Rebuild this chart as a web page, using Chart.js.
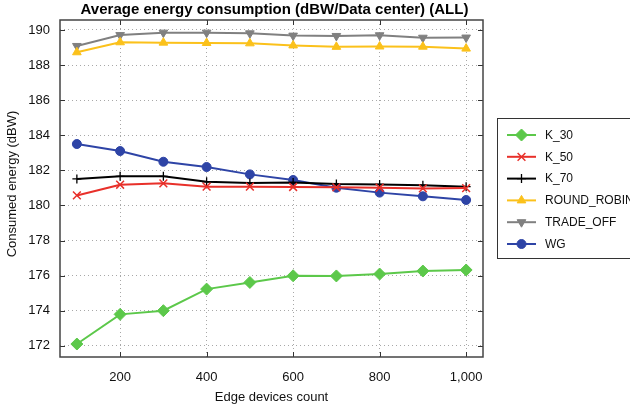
<!DOCTYPE html>
<html>
<head>
<meta charset="utf-8">
<script src="https://cdn.jsdelivr.net/npm/chart.js@4/dist/chart.umd.min.js"></script>
<style>
  html, body { margin: 0; padding: 0; background: #fff; }
  #wrap { width: 630px; height: 407px; }
</style>
</head>
<body>
<div id="wrap"><canvas id="c" width="630" height="407"></canvas></div>
<script>
const edgeCounts = [100, 200, 300, 400, 500, 600, 700, 800, 900, 1000];
const k30 = [172.10, 173.79, 174.00, 175.23, 175.61, 175.99, 175.98, 176.09, 176.26, 176.32];
const k50 = [180.57, 181.18, 181.26, 181.07, 181.07, 181.05, 181.03, 181.01, 180.97, 180.99];
const k70 = [181.51, 181.66, 181.66, 181.35, 181.28, 181.30, 181.22, 181.20, 181.15, 181.07];
const roundRobin = [188.73, 189.30, 189.28, 189.26, 189.24, 189.12, 189.04, 189.06, 189.05, 188.94];
const tradeOff = [189.09, 189.71, 189.85, 189.85, 189.81, 189.68, 189.66, 189.70, 189.56, 189.57];
const wg = [183.50, 183.10, 182.49, 182.19, 181.77, 181.45, 181.01, 180.73, 180.52, 180.31];
const seriesNames = ["K_30", "K_50", "K_70", "ROUND_ROBIN", "TRADE_OFF", "WG"];
const xTicks = [200, 400, 600, 800, 1000];
const yTicks = [172, 174, 176, 178, 180, 182, 184, 186, 188, 190];

const FONT = '"Liberation Sans", Arial, Helvetica, sans-serif';

function pts(ys) { return edgeCounts.map((x, i) => ({ x: x, y: ys[i] })); }

const styles = [
  { color: '#5cc84a', point: 'rectRot', radius: 6, rot: 0, bw: 1 },
  { color: '#e8302a', point: 'crossRot', radius: 5.5, rot: 0, bw: 1.5 },
  { color: '#000000', point: 'cross', radius: 4.5, rot: 0, bw: 1.3 },
  { color: '#fbc11b', point: 'triangle', radius: 5, rot: 0, bw: 1 },
  { color: '#808080', point: 'triangle', radius: 5, rot: 180, bw: 1 },
  { color: '#2e44a6', point: 'circle', radius: 4.5, rot: 0, bw: 1 }
];
const allData = [k30, k50, k70, roundRobin, tradeOff, wg];

const datasets = allData.map((d, i) => ({
  label: seriesNames[i],
  data: pts(d),
  borderColor: styles[i].color,
  backgroundColor: styles[i].color,
  borderWidth: 2,
  pointStyle: styles[i].point,
  pointRadius: styles[i].radius,
  pointRotation: styles[i].rot,
  pointBorderWidth: styles[i].bw,
  pointBorderColor: styles[i].color,
  pointBackgroundColor: styles[i].color,
  tension: 0
}));

const decor = {
  id: 'decor',
  afterDraw(chart) {
    const ctx = chart.ctx;
    const a = chart.chartArea;
    const xs = chart.scales.x, ys = chart.scales.y;
    ctx.save();
    // inner tick marks
    ctx.strokeStyle = '#333';
    ctx.lineWidth = 1;
    ctx.beginPath();
    xTicks.forEach(v => {
      const px = Math.round(xs.getPixelForValue(v)) + 0.5;
      ctx.moveTo(px, a.bottom); ctx.lineTo(px, a.bottom - 5);
      ctx.moveTo(px, a.top); ctx.lineTo(px, a.top + 5);
    });
    yTicks.forEach(v => {
      const py = Math.round(ys.getPixelForValue(v)) + 0.5;
      ctx.moveTo(a.left, py); ctx.lineTo(a.left + 5, py);
      ctx.moveTo(a.right, py); ctx.lineTo(a.right - 5, py);
    });
    ctx.stroke();
    // box
    ctx.strokeStyle = '#444';
    ctx.lineWidth = 1.5;
    ctx.strokeRect(a.left, a.top, a.right - a.left, a.bottom - a.top);

    // title
    ctx.fillStyle = '#000';
    ctx.font = 'bold 15px ' + FONT;
    ctx.textAlign = 'center';
    ctx.textBaseline = 'middle';
    ctx.fillText('Average energy consumption (dBW/Data center) (ALL)', (a.left + a.right) / 2 + 3, 10);

    // axis titles
    ctx.font = '13px ' + FONT;
    ctx.fillStyle = '#111';
    ctx.fillText('Edge devices count', (a.left + a.right) / 2, 397);
    ctx.save();
    ctx.translate(12, 184);
    ctx.rotate(-Math.PI / 2);
    ctx.fillText('Consumed energy (dBW)', 0, 0);
    ctx.restore();

    // legend
    const lx = 497, ly = 118, lw = 140, lh = 140;
    ctx.fillStyle = '#fff';
    ctx.fillRect(lx, ly, lw, lh);
    ctx.strokeStyle = '#333';
    ctx.lineWidth = 1;
    ctx.strokeRect(lx + 0.5, ly + 0.5, lw, lh);
    ctx.font = '12px ' + FONT;
    ctx.textAlign = 'left';
    ctx.textBaseline = 'middle';
    seriesNames.forEach((name, i) => {
      const y = 135 + i * 21.8;
      const st = styles[i];
      ctx.strokeStyle = st.color;
      ctx.lineWidth = 2;
      ctx.beginPath();
      ctx.moveTo(507, y); ctx.lineTo(536, y);
      ctx.stroke();
      ctx.fillStyle = st.color;
      ctx.lineWidth = st.bw;
      Chart.helpers.drawPoint(ctx, {
        pointStyle: st.point, radius: st.radius, rotation: st.rot, borderWidth: st.bw
      }, 521.5, y);
      ctx.fillStyle = '#111';
      ctx.fillText(name, 545, y + 0.5);
    });
    ctx.restore();
  }
};

new Chart(document.getElementById('c'), {
  type: 'line',
  data: { datasets: datasets },
  options: {
    responsive: false,
    animation: false,
    devicePixelRatio: 1,
    layout: { padding: { left: 0, top: 20, right: 147, bottom: 0 } },
    plugins: { legend: { display: false }, title: { display: false }, tooltip: { enabled: false } },
    scales: {
      x: {
        type: 'linear',
        min: 61, max: 1039,
        afterBuildTicks(s) { s.ticks = xTicks.map(v => ({ value: v })); },
        afterFit(s) { s.height = 50; },
        ticks: {
          autoSkip: false, maxRotation: 0, padding: 13,
          color: '#111', font: { family: FONT, size: 13 },
          callback: v => v.toLocaleString('en-US')
        },
        grid: { color: '#a8a8a8', lineWidth: 1, drawTicks: false },
        border: { display: false, dash: [1, 3] }
      },
      y: {
        min: 171.36, max: 190.57,
        afterBuildTicks(s) { s.ticks = yTicks.map(v => ({ value: v })); },
        afterFit(s) { s.width = 60; },
        ticks: {
          autoSkip: false, padding: 10,
          color: '#111', font: { family: FONT, size: 13 }
        },
        grid: { color: '#a8a8a8', lineWidth: 1, drawTicks: false },
        border: { display: false, dash: [1, 3] }
      }
    }
  },
  plugins: [decor]
});
</script>
</body>
</html>
